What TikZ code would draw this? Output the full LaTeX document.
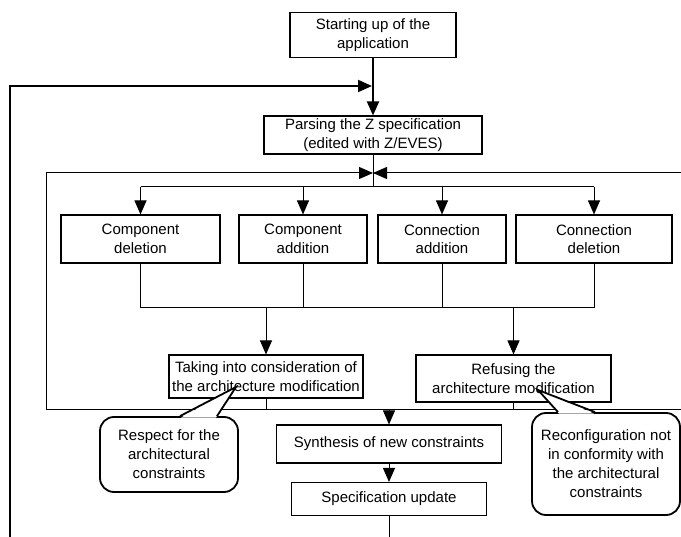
\documentclass[tikz,border=0pt]{standalone}
\usepackage{fontspec}
\setmainfont{Liberation Sans}
\usetikzlibrary{arrows.meta}
\begin{document}
\begin{tikzpicture}[x=1pt,y=-1pt,
  box/.style={draw,line width=1.1pt,align=center,inner sep=0pt,font=\fontsize{15}{18.5}\selectfont},
  ln/.style={line width=1pt},
  thk/.style={line width=2pt},
  arr/.style={-{Triangle[length=14pt,width=12pt]}},
  callout/.style={draw,line width=1.8pt,rounded corners=14pt,align=center,inner sep=0pt,font=\fontsize{15}{19}\selectfont},
  pointer/.style={line width=1.8pt,line join=miter}]
\useasboundingbox (0,0) rectangle (681,537);

% nodes
\node[box,minimum width=166pt,minimum height=45pt] (start) at (373,35) {Starting up of the\\application};
\node[box,minimum width=218pt,minimum height=38pt] (parse) at (373,135) {Parsing the Z specification\\(edited with Z/EVES)};
\node[box,minimum width=159pt,minimum height=48pt] (b1) at (140.5,239) {Component\\deletion};
\node[box,minimum width=128pt,minimum height=48pt] (b2) at (303,239) {Component\\addition};
\node[box,minimum width=128pt,minimum height=48pt] (b3) at (442,239) {Connection\\addition};
\node[box,minimum width=156pt,minimum height=48pt] (b4) at (594,239) {Connection\\deletion};
\node[box,minimum width=194pt,minimum height=43pt] (take) at (266,376.5) {Taking into consideration of\\the architecture modification};
\node[box,minimum width=195pt,minimum height=47pt] (refuse) at (513.5,378.5) {Refusing the\\architecture modification};
\node[box,minimum width=225pt,minimum height=38pt] (synth) at (389,444) {Synthesis of new constraints};
\node[box,minimum width=195pt,minimum height=33pt] (spec) at (389,499) {Specification update};
\node[callout,minimum width=138pt,minimum height=75pt] (c1) at (169,454.5) {Respect for the\\architectural\\constraints};
\node[callout,minimum width=148pt,minimum height=102pt] (c2) at (606,464) {Reconfiguration not\\in conformity with\\the architectural\\constraints};

% coordinates
\coordinate (ob) at (10,537);
\coordinate (m1) at (372,86);
\coordinate (bt) at (373,173);
\coordinate (d) at (373,187);
\coordinate (cl) at (0,308);
\coordinate (bl) at (46,410);
\coordinate (br) at (681,410);
\coordinate (tr) at (681,173);
\coordinate (sb) at (389,537);

% outer loop and main flow
\draw[thk,arr] (ob) |- (m1);
\draw[thk,arr] (start.south) -- (parse.north);
\draw[ln] (parse.south) -- (d);
\draw[ln,arr] (bl) |- (bt);
\draw[ln,arr] (tr) -- (bt);

% distribution
\draw[ln] (b1.north |- d) -- (b4.north |- d);
\foreach \b in {b1,b2,b3,b4} \draw[ln,arr] (\b.north |- d) -- (\b.north);

% collection
\draw[ln] (b1.south) -- (b1.south |- cl) -- (b4.south |- cl) -- (b4.south);
\draw[ln] (b2.south) -- (b2.south |- cl);
\draw[ln] (b3.south) -- (b3.south |- cl);
\draw[ln,arr] (take.north |- cl) -- (take.north);
\draw[ln,arr] (refuse.north |- cl) -- (refuse.north);

% bottom
\draw[ln] (bl) -- (br);
\draw[ln] (take.south) -- (take.south |- bl);
\draw[ln] (refuse.south) -- (refuse.south |- bl);
\draw[ln,arr] (synth.north |- bl) -- (synth.north);
\draw[ln,arr] (synth.south) -- (spec.north);
\draw[ln] (spec.south) -- (sb);

% callout pointers
\coordinate (t1) at (236,387);
\coordinate (t2) at (538,390);
\fill[white] ([xshift=12pt,yshift=-1.5pt]c1.north) -- (t1) -- ([xshift=47pt,yshift=-1.5pt]c1.north) -- cycle;
\draw[pointer] ([xshift=11pt]c1.north) -- (t1) -- ([xshift=48pt]c1.north);
\fill[white] ([xshift=-47pt,yshift=-1.5pt]c2.north) -- (t2) -- ([xshift=-12pt,yshift=-1.5pt]c2.north) -- cycle;
\draw[pointer] ([xshift=-48pt]c2.north) -- (t2) -- ([xshift=-11pt]c2.north);
\end{tikzpicture}
\end{document}
